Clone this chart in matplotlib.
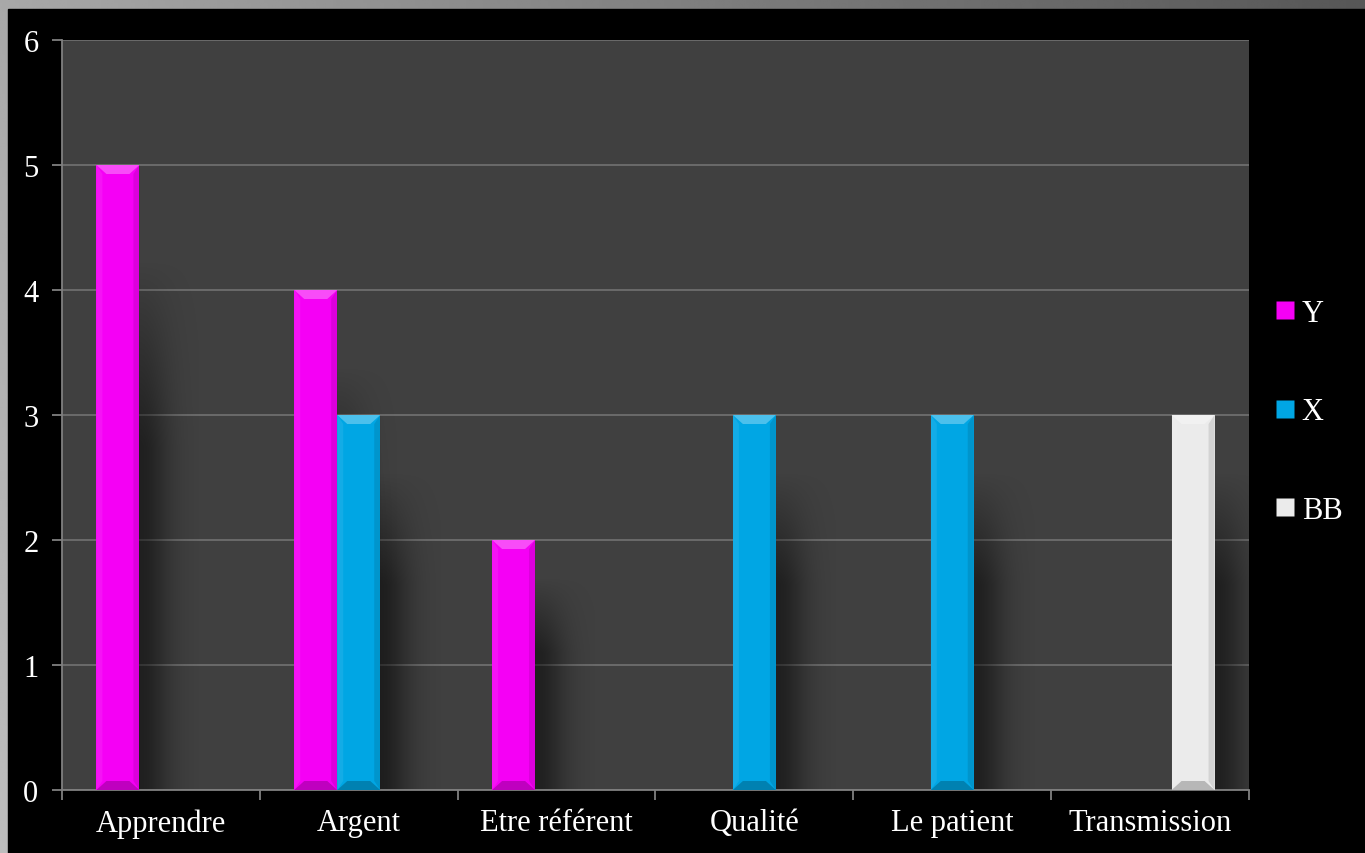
import numpy as np
import matplotlib.pyplot as plt
from matplotlib.patches import Rectangle, Polygon
from matplotlib.lines import Line2D

categories = ['Apprendre', 'Argent', 'Etre référent', 'Qualité', 'Le patient', 'Transmission']
series_names = ['Y', 'X', 'BB']
y_vals = [5, 4, 2, 0, 0, 0]
x_vals = [0, 3, 0, 3, 3, 0]
bb_vals = [0, 0, 0, 0, 0, 3]
colors = ['#F500F5', '#00A6E4', '#EBEBEB']

plt.rcParams['font.family'] = ['Liberation Serif', 'DejaVu Serif']

fig = plt.figure(figsize=(13.65, 8.54), dpi=100)
W, H = 1365, 854

# grey frame gradient behind a black slide
bg = fig.add_axes([0, 0, 1, 1])
gx = np.linspace(0, 1, 400)
gy = np.linspace(0, 1, 300)
GX, GY = np.meshgrid(gx, gy)
grad = 0.66 - 0.32 * GX + 0.08 * GY
bg.imshow(grad, cmap='gray', vmin=0, vmax=1, extent=(0, 1, 0, 1), aspect='auto')
bg.add_patch(Rectangle((8 / W, 0), 1, 1 - 10 / H, color='black'))
bg.set_xlim(0, 1)
bg.set_ylim(0, 1)
bg.axis('off')

left, right, top, bottom = 62, 1249, 41, 791
ax = fig.add_axes([left / W, 1 - bottom / H, (right - left) / W, (bottom - top) / H])
ax.set_facecolor('#404040')

n = len(categories)
width = 43 / ((right - left) / n)
offsets = [-width, 0, width]
ax.set_xlim(-0.5, n - 0.5)
ax.set_ylim(0, 6)

px_x = n / (right - left)   # data units per pixel
px_y = 6 / (bottom - top)

# soft shadows to the right of the bars
def shadow(x0, h):
    sw = 60 * px_x
    top_y = h * 0.85
    nx, ny = 60, 80
    xs = np.linspace(0, 1, nx)
    ys = np.linspace(0, 1, ny)
    XS, YS = np.meshgrid(xs, ys)
    a = 0.5 * np.exp(-(XS / 0.5) ** 2) * np.clip((1 - YS) / 0.35, 0, 1)
    img = np.zeros((ny, nx, 4))
    img[..., 3] = a
    ax.imshow(img, extent=(x0, x0 + sw, 0, top_y), origin='lower',
              aspect='auto', zorder=1.5, interpolation='bilinear')

def bevel_bar(xc, h, color):
    x0, x1 = xc - width / 2, xc + width / 2
    ax.add_patch(Rectangle((x0, 0), width, h, facecolor=color, edgecolor='none', zorder=3))
    bx, by = 10 * px_x, 9 * px_y
    # top bevel lighter, bottom darker, sides shaded
    ax.add_patch(Polygon([(x0, h), (x1, h), (x1 - bx, h - by), (x0 + bx, h - by)],
                         facecolor='white', alpha=0.3, edgecolor='none', zorder=4))
    ax.add_patch(Polygon([(x0, 0), (x1, 0), (x1 - bx, by), (x0 + bx, by)],
                         facecolor='black', alpha=0.22, edgecolor='none', zorder=4))
    ax.add_patch(Polygon([(x1, 0), (x1, h), (x1 - bx * 0.6, h - by), (x1 - bx * 0.6, by)],
                         facecolor='black', alpha=0.1, edgecolor='none', zorder=4))
    ax.add_patch(Polygon([(x0, 0), (x0, h), (x0 + bx * 0.6, h - by), (x0 + bx * 0.6, by)],
                         facecolor='white', alpha=0.08, edgecolor='none', zorder=4))

all_vals = [y_vals, x_vals, bb_vals]
for vals, off, col in zip(all_vals, offsets, colors):
    for i, v in enumerate(vals):
        if v > 0:
            shadow(i + off + width / 2, v)
            bevel_bar(i + off, v, col)

ax.yaxis.grid(True, color='#6E6E6E', linewidth=1.3, zorder=1)
ax.set_axisbelow(True)
ax.set_yticks(range(7))
ax.set_xticks(np.arange(-0.5, n, 1), minor=False)
ax.set_xticklabels([])
ax.set_xticks(range(n), minor=True)
ax.set_xticklabels(categories, minor=True)
ax.tick_params(axis='x', which='minor', length=0, pad=13, labelsize=22, labelcolor='white')
ax.tick_params(axis='x', which='major', length=7, color='#808080', width=1.3)
ax.tick_params(axis='y', length=7, color='#808080', width=1.3, pad=10,
               labelsize=22, labelcolor='white')
for s in ['top', 'right']:
    ax.spines[s].set_visible(False)
for s in ['left', 'bottom']:
    ax.spines[s].set_color('#808080')
    ax.spines[s].set_linewidth(1.3)

handles = [Line2D([], [], marker='s', linestyle='none', markersize=13,
                  markerfacecolor=c, markeredgecolor='none') for c in colors]
leg = fig.legend(handles, series_names, loc='center left',
                 bbox_to_anchor=(1242 / W, 1 - 413 / H), frameon=False,
                 fontsize=22, labelspacing=2.27, handletextpad=0.05,
                 handlelength=1.0, labelcolor='white')

fig.savefig('out.png', dpi=100, facecolor='black')
